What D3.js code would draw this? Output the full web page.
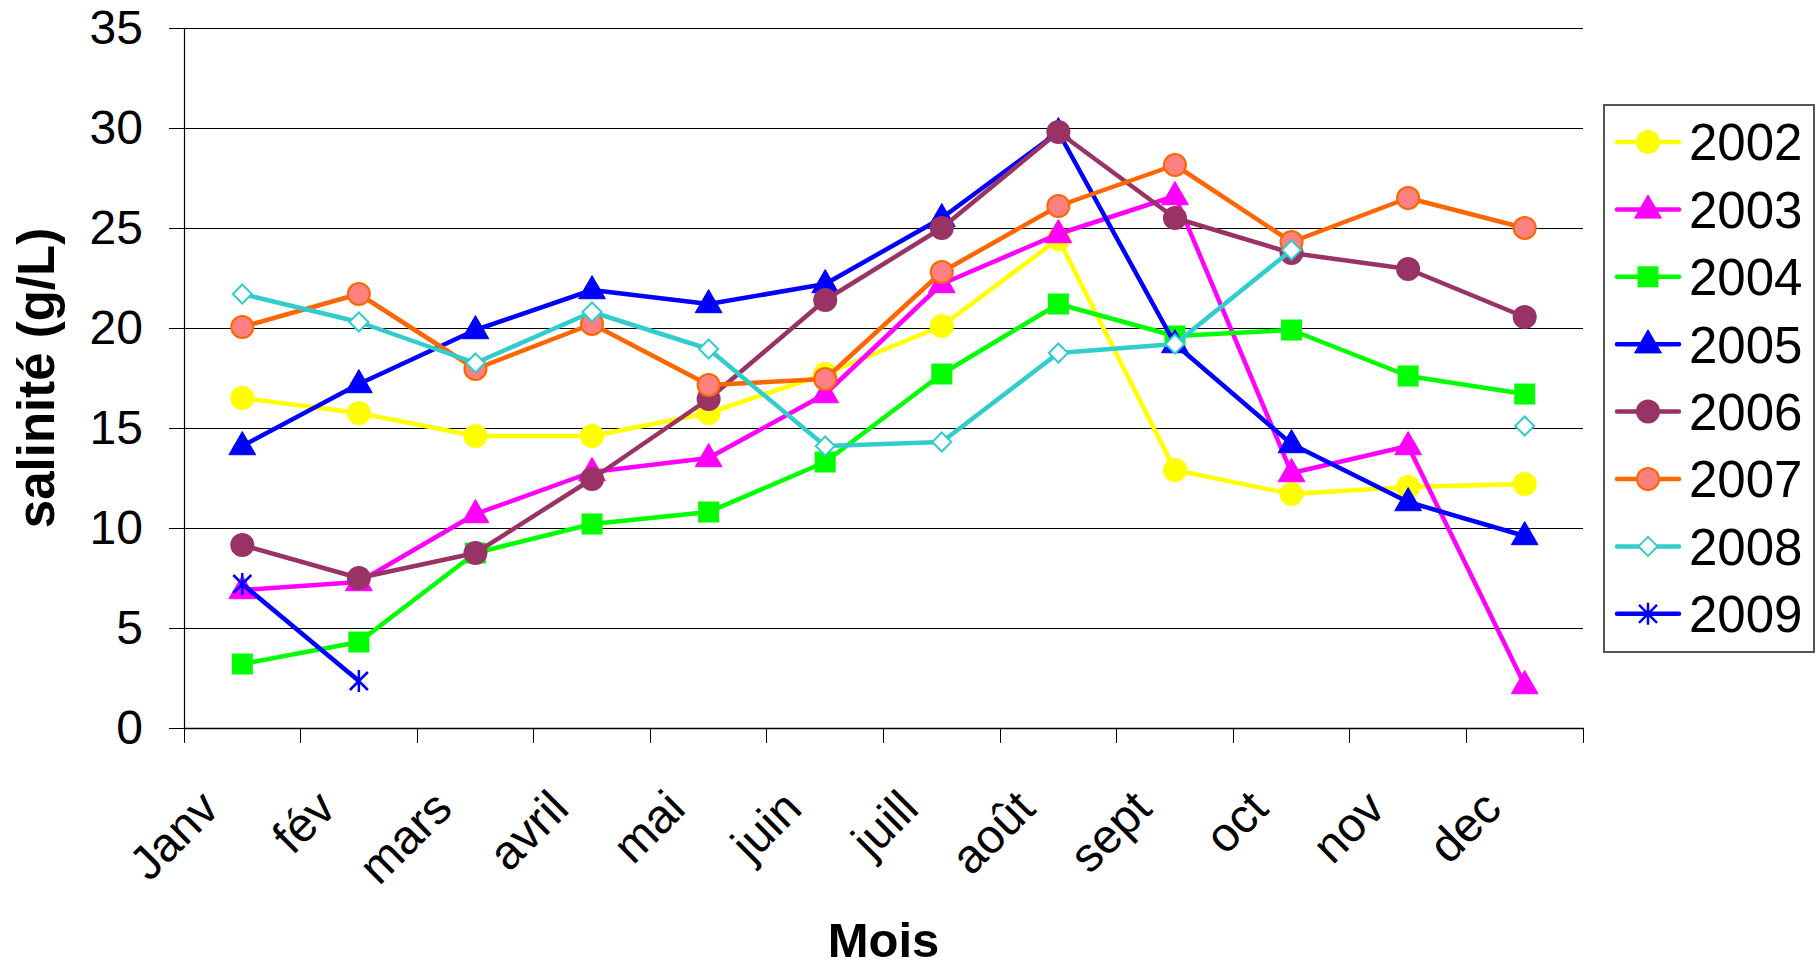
<!DOCTYPE html>
<html><head><meta charset="utf-8">
<script src="https://cdn.jsdelivr.net/npm/d3@7"></script>
<style>body{margin:0;background:#fff}svg{display:block;font-family:"Liberation Sans",Arial,sans-serif}</style>
</head><body>
<script>
const months = ["Janv","fév","mars","avril","mai","juin","juill","août","sept","oct","nov","dec"];
const yTicks = [0,5,10,15,20,25,30,35];
const v2002 = [16.5,15.75,14.6,14.6,15.75,17.7,20.1,24.45,12.9,11.7,12.05,12.2];
const v2003 = [6.9,7.3,10.7,12.8,13.5,16.7,22.2,24.7,26.6,12.75,14.1,2.15];
const v2004 = [3.2,4.3,8.75,10.2,10.8,13.3,17.7,21.2,19.6,19.9,17.6,16.7];
const v2005 = [14.1,17.2,19.9,21.9,21.2,22.2,25.5,29.8,19.2,14.2,11.3,9.6];
const v2006 = [9.15,7.5,8.75,12.45,16.45,21.4,25.0,29.8,25.5,23.75,22.95,20.55];
const v2007 = [20.05,21.7,17.95,20.2,17.15,17.45,22.8,26.1,28.15,24.3,26.5,25.0];
const v2008 = [21.7,20.3,18.25,20.8,18.95,14.1,14.3,18.75,19.2,23.9,null,15.1];
const v2009 = [7.2,2.35,null,null,null,null,null,null,null,null,null,null];
const seriesNames = ["2002","2003","2004","2005","2006","2007","2008","2009"];

const series = [
  {name:seriesNames[0], values:v2002, line:"#FFFF00", fill:"#FFFF00", stroke:"#FFFF00", marker:"circle"},
  {name:seriesNames[1], values:v2003, line:"#FF00FF", fill:"#FF00FF", stroke:"#FF00FF", marker:"triangle"},
  {name:seriesNames[2], values:v2004, line:"#00FF00", fill:"#00FF00", stroke:"#00FF00", marker:"square"},
  {name:seriesNames[3], values:v2005, line:"#0000FF", fill:"#0000FF", stroke:"#0000FF", marker:"triangle"},
  {name:seriesNames[4], values:v2006, line:"#993366", fill:"#993366", stroke:"#993366", marker:"circle"},
  {name:seriesNames[5], values:v2007, line:"#FF6600", fill:"#FF8080", stroke:"#FF6600", marker:"circle"},
  {name:seriesNames[6], values:v2008, line:"#33CCCC", fill:"#FFFFFF", stroke:"#33CCCC", marker:"diamond"},
  {name:seriesNames[7], values:v2009, line:"#0000FF", fill:"none", stroke:"#0000FF", marker:"star"}
];

const W = 1818, H = 968;
const m = {left:184, right:1583, top:28, bottom:728};
const svg = d3.select("body").append("svg").attr("width",W).attr("height",H);

const x = d3.scaleBand().domain(months).range([m.left,m.right]).padding(0);
const y = d3.scaleLinear().domain([0,35]).range([m.bottom,m.top]);
const cx = d => x(d) + x.bandwidth()/2;

// gridlines
svg.append("g").selectAll("line").data(yTicks.filter(t=>t>0)).join("line")
  .attr("x1",m.left).attr("x2",m.right).attr("y1",d=>y(d)).attr("y2",d=>y(d))
  .attr("stroke","#000").attr("stroke-width",1).attr("shape-rendering","crispEdges");

// y axis
const ya = svg.append("g").attr("transform",`translate(${m.left},0)`)
  .call(d3.axisLeft(y).tickValues(yTicks).tickSize(15).tickPadding(26).tickSizeOuter(0));
ya.select(".domain").attr("stroke","#000").attr("stroke-width",1.2);
ya.selectAll(".tick line").attr("stroke","#000");
ya.selectAll("text").attr("font-size",48).attr("font-family","Liberation Sans, Arial").attr("fill","#000");

// x axis
const xa = svg.append("g").attr("transform",`translate(0,${m.bottom})`)
  .call(d3.axisBottom(x).tickSize(0).tickSizeOuter(0).tickFormat(""));
xa.select(".domain").attr("stroke","#000").attr("stroke-width",1.5);
const bounds = months.map(mo=>x(mo)).concat([m.right]);
svg.append("g").selectAll("line").data(bounds).join("line")
  .attr("x1",d=>d).attr("x2",d=>d).attr("y1",m.bottom).attr("y2",m.bottom+15)
  .attr("stroke","#000").attr("stroke-width",1).attr("shape-rendering","crispEdges");
svg.append("g").selectAll("text").data(months).join("text")
  .attr("transform",d=>`translate(${cx(d)-21},${m.bottom+83}) rotate(-45)`)
  .attr("text-anchor","end")
  .attr("font-size",48).attr("fill","#000").text(d=>d);

// axis titles
svg.append("text").attr("x",(m.left+m.right)/2).attr("y",957).attr("text-anchor","middle")
  .attr("font-size",49).attr("font-weight","bold").text("Mois");
svg.append("text").attr("transform",`translate(54,378) rotate(-90)`)
  .attr("text-anchor","middle").attr("font-size",51).attr("font-weight","bold").text("salinité (g/L)");

function drawMarker(g, type, s){
  if(type==="circle"){
    g.append("circle").attr("r",11).attr("fill",s.fill).attr("stroke",s.stroke).attr("stroke-width",2);
  } else if(type==="triangle"){
    g.append("path").attr("d",d3.symbol(d3.symbolTriangle,310)()).attr("transform","translate(0,1)")
      .attr("fill",s.fill).attr("stroke",s.stroke).attr("stroke-width",1);
  } else if(type==="square"){
    g.append("rect").attr("x",-10.5).attr("y",-10.5).attr("width",21).attr("height",21).attr("fill",s.fill);
  } else if(type==="diamond"){
    g.append("path").attr("d","M0,-9.5L9.5,0L0,9.5L-9.5,0Z").attr("fill",s.fill).attr("stroke",s.stroke).attr("stroke-width",2);
  } else if(type==="star"){
    g.append("path").attr("d","M-9,-9L9,9M-9,9L9,-9M0,-11L0,11").attr("stroke",s.stroke).attr("stroke-width",2.5).attr("fill","none");
  }
}

const line = d3.line().defined(d=>d.v!==null).x(d=>cx(d.m)).y(d=>y(d.v));
series.forEach(s=>{
  const pts = months.map((mo,i)=>({m:mo,v:s.values[i]}));
  const g = svg.append("g");
  g.append("path").datum(pts).attr("d",line).attr("fill","none").attr("stroke",s.line).attr("stroke-width",4.5).attr("stroke-linejoin","round");
  pts.filter(p=>p.v!==null).forEach(p=>{
    drawMarker(g.append("g").attr("transform",`translate(${cx(p.m)},${y(p.v)})`), s.marker, s);
  });
});

// legend
const lg = svg.append("g");
lg.append("rect").attr("x",1604).attr("y",105).attr("width",210).attr("height",547)
  .attr("fill","#fff").attr("stroke","#555").attr("stroke-width",2);
series.forEach((s,i)=>{
  const yy = 142 + i*67.4;
  lg.append("line").attr("x1",1617).attr("x2",1679).attr("y1",yy).attr("y2",yy).attr("stroke",s.line).attr("stroke-width",4.5).attr("stroke-linecap","round");
  drawMarker(lg.append("g").attr("transform",`translate(1648,${yy})`), s.marker, s);
  lg.append("text").attr("x",1689).attr("y",yy).attr("dy","0.36em").attr("font-size",51).text(s.name);
});
</script>
</body></html>
